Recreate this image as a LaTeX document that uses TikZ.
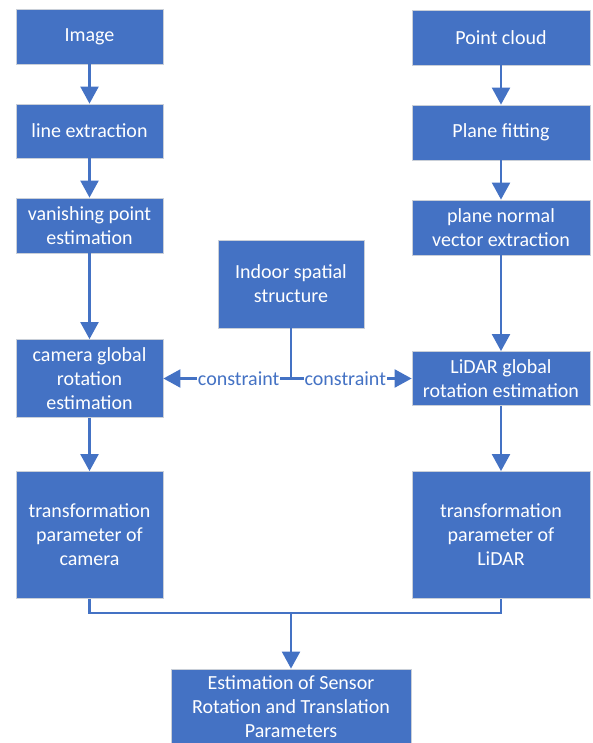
\documentclass[tikz,border=0pt]{standalone}
\usepackage{fontspec}
\setmainfont{Carlito}
\usetikzlibrary{arrows.meta}
\definecolor{bblue}{HTML}{4472C4}
\definecolor{bedge}{HTML}{C9CFD8}
\begin{document}
\begin{tikzpicture}[x=1pt,y=-1pt,
  blk/.style={draw=bedge, line width=0.8pt, fill=bblue, text=white, align=center,
    inner sep=0pt, font=\fontsize{20}{24}\selectfont},
  ln/.style={draw=bblue, line width=2.2pt},
  arr/.style={ln, -{Triangle[length=17pt,width=18pt]}},
  lbl/.style={fill=white, text=bblue, inner sep=1pt, font=\fontsize{20}{24}\selectfont}]
\useasboundingbox (0,0) rectangle (592,743);
\clip (0,0) rectangle (592,743);
% left column
\node[blk, minimum width=147pt, minimum height=55pt] (img) at (89.5,36.5) {Image};
\node[blk, minimum width=147pt, minimum height=54pt] (lex) at (89.5,131) {line extraction};
\node[blk, minimum width=147pt, minimum height=55pt] (van) at (89.5,225.5) {vanishing point\\estimation};
\node[blk, minimum width=147pt, minimum height=78pt] (cam) at (89.5,378.5) {camera global\\rotation\\estimation};
\node[blk, minimum width=147pt, minimum height=127pt] (tcam) at (89.5,535) {transformation\\parameter of\\camera};
% right column
\node[blk, minimum width=178pt, minimum height=55pt] (pc) at (501,37.5) {Point cloud};
\node[blk, minimum width=178pt, minimum height=55pt] (pf) at (501,132.5) {Plane fitting};
\node[blk, minimum width=178pt, minimum height=55pt] (pn) at (501,227.5) {plane normal\\vector extraction};
\node[blk, minimum width=178pt, minimum height=54pt] (lid) at (501,378.5) {LiDAR global\\rotation estimation};
\node[blk, minimum width=178pt, minimum height=127pt] (tlid) at (501,535) {transformation\\parameter of\\LiDAR};
% middle
\node[blk, minimum width=146pt, minimum height=88pt] (ind) at (291,284) {Indoor spatial\\structure};
\node[blk, minimum width=240pt, minimum height=76pt] (est) at (291,707) {Estimation of Sensor\\Rotation and Translation\\Parameters};
% connectors
\draw[arr] (img) -- (lex);
\draw[arr] (lex) -- (van);
\draw[arr] (van) -- (cam);
\draw[arr] (cam) -- (tcam);
\draw[arr] (pc) -- (pf);
\draw[arr] (pf) -- (pn);
\draw[arr] (pn) -- (lid);
\draw[arr] (lid) -- (tlid);
\coordinate (j) at (ind.south |- cam.east);
\draw[ln] (ind.south) -- (j);
\draw[arr] (j) -- node[lbl, pos=0.41] {constraint} (cam.east);
\draw[arr] (j) -- node[lbl, pos=0.45] {constraint} (lid.west);
\coordinate (m) at (291,613);
\draw[ln] (tcam.south) |- (m) -| (tlid.south);
\draw[arr] (m) -- (est.north);
\end{tikzpicture}
\end{document}
